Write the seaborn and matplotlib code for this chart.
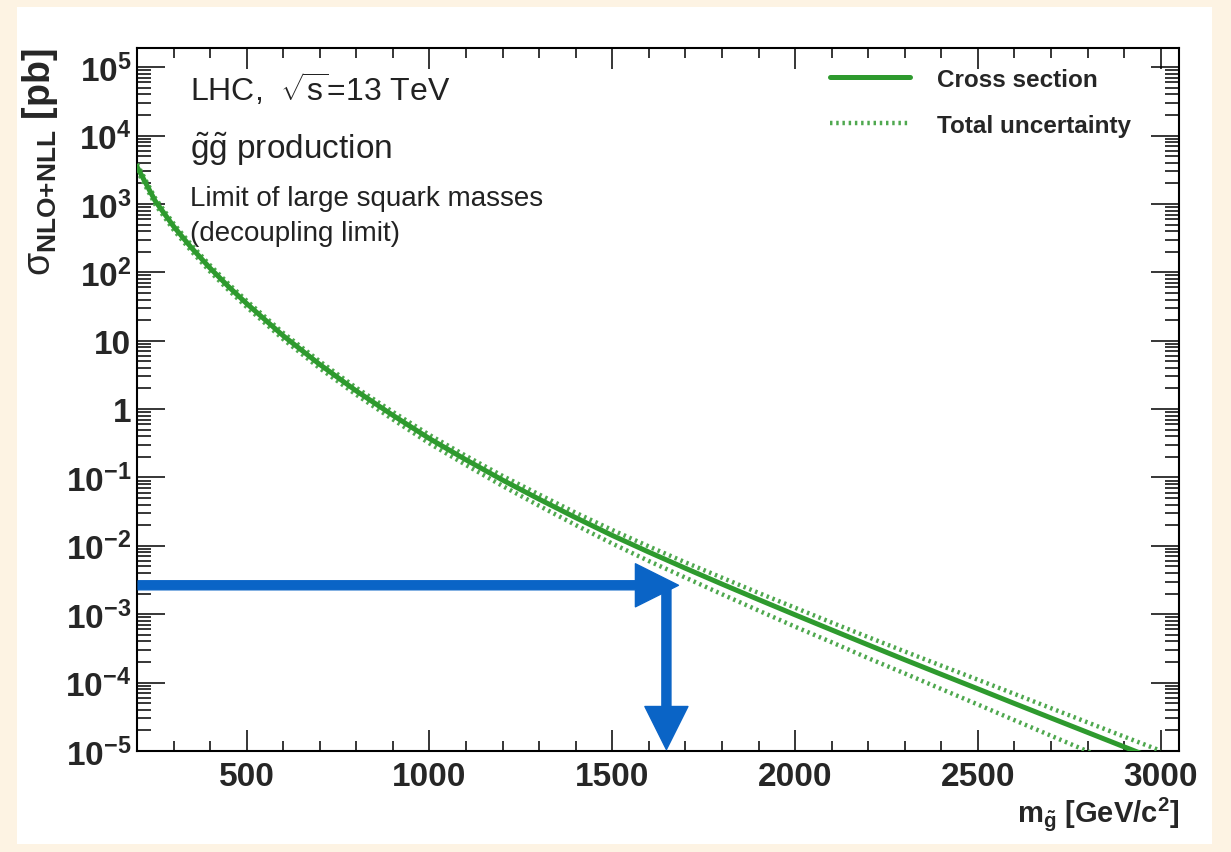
import numpy as np
import pandas as pd
import matplotlib
matplotlib.use("Agg")
import matplotlib.pyplot as plt
from matplotlib.patches import Rectangle
from matplotlib.ticker import FixedLocator, NullFormatter, LogLocator
import seaborn as sns

# Gluino-pair production cross section, NLO+NLL, 13 TeV, decoupled squarks
mass_gev = [200, 250, 300, 350, 400, 450, 500, 600, 700, 800, 900, 1000,
            1100, 1200, 1300, 1400, 1500, 1600, 1700, 1800, 1900, 2000,
            2100, 2200, 2300, 2400, 2500, 2600, 2700, 2800, 2900, 3000]
xsec_pb = [3.5e3, 1.1e3, 470, 225, 115, 62, 34.9, 11.8, 4.49, 1.84, 0.81, 0.37,
           0.181, 0.0915, 0.0481, 0.0258, 0.0142, 0.0081, 0.0047, 0.00276, 0.00164, 0.00098,
           5.9e-4, 3.56e-4, 2.16e-4, 1.32e-4, 8.1e-5, 4.95e-5, 3.04e-5, 1.87e-5, 1.15e-5, 7.1e-6]
# relative total uncertainty (upward / downward fractions)
rel_unc_up = [0.10, 0.10, 0.10, 0.10, 0.10, 0.10, 0.10, 0.10, 0.11, 0.11, 0.12, 0.13,
              0.14, 0.15, 0.17, 0.18, 0.20, 0.21, 0.22, 0.24, 0.25, 0.27,
              0.28, 0.30, 0.32, 0.34, 0.36, 0.38, 0.39, 0.40, 0.41, 0.42]
rel_unc_dn = [0.11, 0.11, 0.11, 0.11, 0.11, 0.11, 0.11, 0.11, 0.12, 0.12, 0.13, 0.15,
              0.16, 0.18, 0.20, 0.22, 0.24, 0.26, 0.27, 0.29, 0.31, 0.33,
              0.34, 0.36, 0.37, 0.39, 0.41, 0.43, 0.45, 0.47, 0.49, 0.50]

# exclusion read-off arrows
arrow_xsec = 2.65e-3
arrow_mass = 1648
arrow_head_mass = 1681

y_tick_values = [1e-5, 1e-4, 1e-3, 1e-2, 1e-1, 1, 10, 1e2, 1e3, 1e4, 1e5]
y_tick_labels = [r"$\mathbf{10^{-5}}$", r"$\mathbf{10^{-4}}$", r"$\mathbf{10^{-3}}$",
                 r"$\mathbf{10^{-2}}$", r"$\mathbf{10^{-1}}$", "1", "10",
                 r"$\mathbf{10^{2}}$", r"$\mathbf{10^{3}}$", r"$\mathbf{10^{4}}$",
                 r"$\mathbf{10^{5}}$"]
x_tick_values = [500, 1000, 1500, 2000, 2500, 3000]
x_tick_labels = ["500", "1000", "1500", "2000", "2500", "3000"]

sns.set_style("ticks")
plt.rcParams["font.family"] = ["Liberation Sans", "DejaVu Sans"]
plt.rcParams["mathtext.fontset"] = "custom"
plt.rcParams["mathtext.rm"] = "Liberation Sans"
plt.rcParams["mathtext.it"] = "Liberation Sans:italic"
plt.rcParams["mathtext.bf"] = "Liberation Sans:bold"
plt.rcParams["mathtext.sf"] = "Liberation Sans"

df = pd.DataFrame({"mass": mass_gev, "xsec": xsec_pb,
                   "up": np.array(rel_unc_up), "dn": np.array(rel_unc_dn)})
df["hi"] = df["xsec"] * (1 + df["up"])
df["lo"] = df["xsec"] * (1 - df["dn"])

W, H = 1231, 853
fig = plt.figure(figsize=(W / 100, H / 100), dpi=100, facecolor="#FDF3E3")
fig.patches.append(Rectangle((17 / W, 1 - 845 / H), (1212 - 17) / W, (845 - 8) / H,
                             transform=fig.transFigure, facecolor="white",
                             edgecolor="none", zorder=-5))

ax = fig.add_axes([137 / W, 1 - 752 / H, (1179 - 137) / W, (752 - 49) / H])
ax.set_zorder(2)
ax.set_facecolor("white")

green = "#2E9A2E"
green_dot = "#4FA84F"
dot_style = (0, (0.55, 0.85))

sns.lineplot(data=df, x="mass", y="hi", ax=ax, color=green_dot, lw=3.2,
             linestyle=dot_style, label="Total uncertainty", zorder=3)
sns.lineplot(data=df, x="mass", y="lo", ax=ax, color=green_dot, lw=3.2,
             linestyle=dot_style, zorder=3)
sns.lineplot(data=df, x="mass", y="xsec", ax=ax, color=green, lw=3.6,
             label="Cross section", zorder=4)

ax.set_yscale("log")
ax.set_xlim(200, 3050)
ax.set_ylim(1e-5, 10 ** 5.28)

# ticks
ax.set_xticks(x_tick_values, x_tick_labels)
ax.xaxis.set_minor_locator(FixedLocator(np.arange(300, 3050, 100)))
ax.set_yticks(y_tick_values, y_tick_labels)
ax.yaxis.set_minor_locator(LogLocator(base=10, subs=np.arange(2, 10), numticks=100))
ax.yaxis.set_minor_formatter(NullFormatter())
ax.tick_params(axis="both", which="both", direction="in", top=True, right=True,
               color="black", width=1.1)
ax.tick_params(axis="x", which="major", length=15, pad=7, labelsize=24)
ax.tick_params(axis="x", which="minor", length=7.5)
ax.tick_params(axis="y", which="major", length=20, pad=4, labelsize=24)
ax.tick_params(axis="y", which="minor", length=10)
for lab in ax.get_xticklabels() + ax.get_yticklabels():
    lab.set_fontweight("bold")
for s in ax.spines.values():
    s.set_linewidth(1.5)
    s.set_color("black")

ax.set_xlabel(r"$\mathbf{m_{\tilde{g}}}$ [GeV/c$\mathbf{^{2}}$]", fontsize=21,
              fontweight="bold", loc="right", labelpad=2)
ax.set_ylabel(r"$\mathrm{\sigma}_{\mathbf{NLO{+}NLL}}$ [pb]", fontsize=27,
              fontweight="bold", loc="top")
ax.yaxis.set_label_coords(-0.074, 1.0)

# legend
handles, labels = ax.get_legend_handles_labels()
order = [labels.index("Cross section"), labels.index("Total uncertainty")]
leg = ax.legend([handles[i] for i in order], [labels[i] for i in order],
                loc="upper left", bbox_to_anchor=(0.665, 0.972), frameon=False,
                prop={"family": "Liberation Sans", "weight": "bold", "size": 17.5},
                handlelength=3.3, handletextpad=1.1, labelspacing=0.95,
                borderpad=0, borderaxespad=0)

# annotation text
ax.text(0.051, 0.943, r"LHC,  $\sqrt{\mathrm{s}}$=13 TeV", transform=ax.transAxes,
        fontsize=23, va="center", ha="left", color="#222222")
ax.text(0.051, 0.857, r"$\mathrm{\tilde{g}\tilde{g}}$ production", transform=ax.transAxes,
        fontsize=24, va="center", ha="left", color="#222222")
ax.text(0.051, 0.786, "Limit of large squark masses", transform=ax.transAxes,
        fontsize=20, va="center", ha="left", color="#222222")
ax.text(0.051, 0.737, "(decoupling limit)", transform=ax.transAxes,
        fontsize=20, va="center", ha="left", color="#222222")

# arrows
blue = "#0A64C6"
arrow_props = dict(arrowstyle="simple,head_length=1.0,head_width=1.0,tail_width=0.21",
                   color=blue, shrinkA=0, shrinkB=0, mutation_scale=31)
ax.annotate("", xy=(arrow_head_mass, arrow_xsec), xytext=(203, arrow_xsec),
            xycoords="data", textcoords="data", arrowprops=arrow_props, zorder=6)
ax.annotate("", xy=(arrow_mass, 1.05e-5), xytext=(arrow_mass, arrow_xsec),
            xycoords="data", textcoords="data", arrowprops=arrow_props, zorder=6)

fig.savefig("out.png", dpi=100, facecolor=fig.get_facecolor())
